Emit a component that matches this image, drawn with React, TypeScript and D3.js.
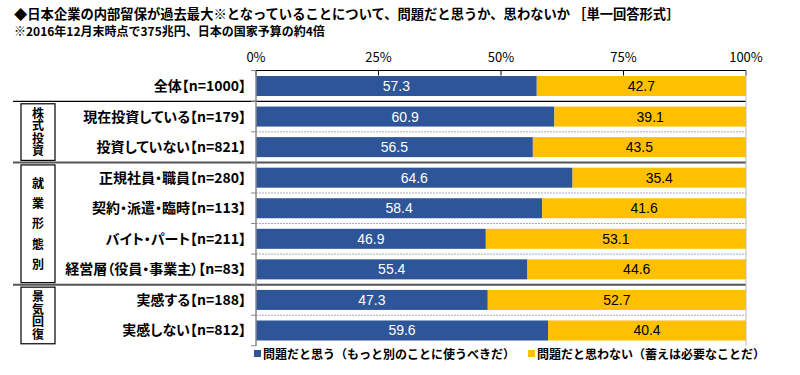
import React from "react";
import * as d3 from "d3";

const categories = [
  "全体【n=1000】",
  "現在投資している【n=179】",
  "投資していない【n=821】",
  "正規社員・職員【n=280】",
  "契約・派遣・臨時【n=113】",
  "バイト・パート【n=211】",
  "経営層（役員・事業主）【n=83】",
  "実感する【n=188】",
  "実感しない【n=812】",
];
const problemYes = [57.3, 60.9, 56.5, 64.6, 58.4, 46.9, 55.4, 47.3, 59.6];
const problemNo = [42.7, 39.1, 43.5, 35.4, 41.6, 53.1, 44.6, 52.7, 40.4];
const seriesNames = ["問題だと思う（もっと別のことに使うべきだ）", "問題だと思わない（蓄えは必要なことだ）"];
const tickValues = [0, 25, 50, 75, 100];
const groups = [
  { label: "株式投資", from: 1, to: 2, spread: false },
  { label: "就業形態別", from: 3, to: 6, spread: true },
  { label: "景気回復", from: 7, to: 8, spread: false },
];
const solidAfter = [0, 2, 6];
const title = "◆日本企業の内部留保が過去最大※となっていることについて、問題だと思うか、思わないか ［単一回答形式］";
const subtitle = "※2016年12月末時点で375兆円、日本の国家予算の約4倍";

const BLUE = "#2E5597";
const YELLOW = "#FFC000";
const FONT = "'Noto Sans CJK JP', 'Noto Sans', sans-serif";

export default function App() {
  const W = 800, H = 375;
  const x = d3.scaleLinear().domain([0, 100]).range([256, 746]);
  const y = d3.scaleBand<number>()
    .domain(d3.range(categories.length))
    .range([70.5, 346])
    .paddingInner(0.345)
    .paddingOuter(0.18);
  const bw = y.bandwidth();
  const step = y.step();
  const gap = (step - bw) / 2;
  const rowTop = (i: number) => (y(i) as number) - gap;
  const rowBottom = (i: number) => (y(i) as number) + bw + gap;

  return (
    <svg width={W} height={H} style={{ position: "absolute", left: 0, top: 0, background: "#fff" }} fontFamily={FONT}>
      <rect x={0} y={0} width={W} height={H} fill="#fff" />
      <text x={14} y={19} fontSize={13.3} fontWeight="bold" fill="#000">{title}</text>
      <text x={14} y={36} fontSize={12} fontWeight="bold" fill="#000">{subtitle}</text>

      {/* top axis labels */}
      {tickValues.map((t) => (
        <text key={t} x={x(t)} y={62} fontSize={13} textAnchor="middle" fill="#000">{t}%</text>
      ))}

      {/* dashed row separators */}
      {d3.range(categories.length - 1).filter((i) => !solidAfter.includes(i)).map((i) => (
        <line key={"d" + i} x1={x(0)} x2={x(100)} y1={rowBottom(i)} y2={rowBottom(i)} stroke="#aaa" strokeWidth={1} strokeDasharray="2,1" />
      ))}

      {/* bars */}
      {categories.map((c, i) => (
        <g key={c}>
          <rect x={x(0)} y={y(i)} width={x(problemYes[i]) - x(0)} height={bw} fill={BLUE} />
          <rect x={x(problemYes[i])} y={y(i)} width={x(100) - x(problemYes[i])} height={bw} fill={YELLOW} />
          <text x={(x(0) + x(problemYes[i])) / 2} y={(y(i) as number) + bw / 2 + 5} fontSize={14} textAnchor="middle" fill="#fff" fontFamily="Arial, 'Liberation Sans', sans-serif">{problemYes[i].toFixed(1)}</text>
          <text x={(x(problemYes[i]) + x(100)) / 2} y={(y(i) as number) + bw / 2 + 5} fontSize={14} textAnchor="middle" fill="#000" fontFamily="Arial, 'Liberation Sans', sans-serif">{problemNo[i].toFixed(1)}</text>
          <text x={246} y={(y(i) as number) + bw / 2 + 5} fontSize={14} fontWeight="bold" textAnchor="end" fill="#000" style={{ fontFeatureSettings: '"palt" 1' }}>{c}</text>
        </g>
      ))}

      {/* solid separators */}
      {solidAfter.map((i, k) => (
        <line key={"s" + i} x1={13} x2={x(100)} y1={rowBottom(i)} y2={rowBottom(i)} stroke={k === 0 ? "#000" : "#555"} strokeWidth={k === 0 ? 1.3 : 2} />
      ))}

      {/* axes */}
      <line x1={x(0)} x2={x(100)} y1={70.5} y2={70.5} stroke="#000" strokeWidth={1} />
      {tickValues.map((t) => (
        <line key={"t" + t} x1={x(t)} x2={x(t)} y1={70.5} y2={75.5} stroke="#000" strokeWidth={1} />
      ))}
      <line x1={x(0)} x2={x(0)} y1={70.5} y2={346} stroke="#888" strokeWidth={1.5} />
      <line x1={x(100)} x2={x(100)} y1={70.5} y2={346} stroke="#bbb" strokeWidth={1} />
      {d3.range(categories.length + 1).map((i) => {
        const yy = i === 0 ? 70.5 : rowBottom(i - 1);
        return <line key={"yt" + i} x1={x(0) - 5} x2={x(0)} y1={yy} y2={yy} stroke="#888" strokeWidth={1} />;
      })}

      {/* group boxes */}
      {groups.map((g) => {
        const top = rowTop(g.from) + 2.5;
        const bottom = rowBottom(g.to) - 2;
        const cy = (top + bottom) / 2;
        const ls = g.spread ? 8.3 : 0.5;
        return (
          <g key={g.label}>
            <rect x={21} y={top} width={34} height={bottom - top} fill="#fff" stroke="#000" strokeWidth={1.2} />
            <text x={38} y={cy + ls / 2} fontSize={12} fontWeight="bold" textAnchor="middle" fill="#000"
              style={{ writingMode: "vertical-rl", letterSpacing: `${ls}px` }}>{g.label}</text>
          </g>
        );
      })}

      {/* legend */}
      <rect x={254} y={350} width={7} height={7} fill={BLUE} />
      <text x={263} y={358.5} fontSize={12} fontWeight="bold" fill="#000">{seriesNames[0]}</text>
      <rect x={528} y={350} width={7} height={7} fill={YELLOW} />
      <text x={537} y={358.5} fontSize={12} fontWeight="bold" fill="#000">{seriesNames[1]}</text>
    </svg>
  );
}
